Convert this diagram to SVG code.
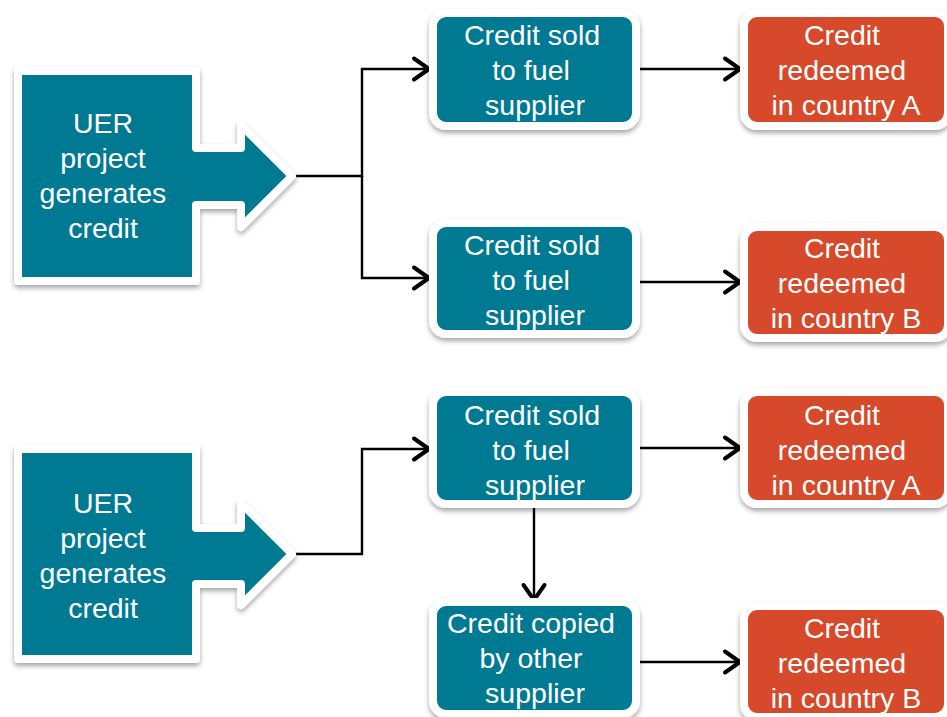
<svg xmlns="http://www.w3.org/2000/svg" width="947" height="717" viewBox="0 0 947 717">
<defs>
<filter id="sh" x="-10%" y="-10%" width="125%" height="130%">
<feDropShadow dx="0" dy="3" stdDeviation="2.5" flood-color="#000" flood-opacity="0.35"/>
</filter>
<marker id="chev" markerUnits="userSpaceOnUse" markerWidth="30" markerHeight="30" viewBox="-20 -15 30 30" refX="0" refY="0" orient="auto">
<path d="M-15,-10.5 L0,0 L-15,10.5" fill="none" stroke="#000" stroke-width="4" stroke-linecap="round" stroke-linejoin="round"/>
</marker>
<style>
.teal{fill:#017992;stroke:#fff;stroke-width:8;filter:url(#sh)}
.orange{fill:#D6492C;stroke:#fff;stroke-width:8;filter:url(#sh)}
.t{font-family:"Liberation Sans",Arial,sans-serif;font-size:28.5px;fill:#fff;text-anchor:middle}
.c{fill:none;stroke:#000;stroke-width:2.4}
.a{marker-end:url(#chev)}
</style>
</defs>
<rect width="947" height="717" fill="#fff"/>
<g id="connectors">
<path class="c a" d="M292,176 H362 V69 H429"/>
<path class="c a" d="M362,176 V278 H429"/>
<path class="c a" d="M636,69 H740"/>
<path class="c a" d="M636,282 H740"/>
<path class="c a" d="M292,554 H362 V449 H429"/>
<path class="c a" d="M636,448 H740"/>
<path class="c a" d="M534,504 V600"/>
<path class="c a" d="M636,662 H740"/>
</g>
<g id="uer1">
<path class="teal" stroke-linejoin="round" d="M18,71 H196 V148 H241 V125 L292,176 L241,227 V205 H196 V281 H18 Z"/>
<text class="t"><tspan x="103" y="133">UER</tspan><tspan x="103" y="168">project</tspan><tspan x="103" y="203">generates</tspan><tspan x="103" y="238">credit</tspan></text>
</g>
<g id="uer2">
<path class="teal" stroke-linejoin="round" d="M18,449 H196 V528 H241 V503 L292,554 L241,605 V584 H196 V659 H18 Z"/>
<text class="t"><tspan x="103" y="513">UER</tspan><tspan x="103" y="548">project</tspan><tspan x="103" y="583">generates</tspan><tspan x="103" y="618">credit</tspan></text>
</g>
<g id="sold1">
<rect class="teal" x="433" y="13" width="203" height="113" rx="13"/>
<text class="t"><tspan x="532" y="45">Credit sold</tspan><tspan x="531" y="80">to fuel</tspan><tspan x="535" y="115">supplier</tspan></text>
</g>
<g id="sold2">
<rect class="teal" x="433" y="223" width="203" height="111" rx="13"/>
<text class="t"><tspan x="532" y="255">Credit sold</tspan><tspan x="531" y="290">to fuel</tspan><tspan x="535" y="325">supplier</tspan></text>
</g>
<g id="sold3">
<rect class="teal" x="433" y="392" width="203" height="112" rx="13"/>
<text class="t"><tspan x="532" y="425">Credit sold</tspan><tspan x="531" y="460">to fuel</tspan><tspan x="535" y="495">supplier</tspan></text>
</g>
<g id="copied">
<rect class="teal" x="433" y="602" width="203" height="112" rx="13"/>
<text class="t"><tspan x="531" y="633">Credit copied</tspan><tspan x="531" y="668">by other</tspan><tspan x="535" y="703">supplier</tspan></text>
</g>
<g id="redA1">
<rect class="orange" x="744" y="13" width="204" height="113" rx="13"/>
<text class="t"><tspan x="842" y="45">Credit</tspan><tspan x="842" y="80">redeemed</tspan><tspan x="846" y="115">in country A</tspan></text>
</g>
<g id="redB1">
<rect class="orange" x="744" y="227" width="204" height="111" rx="13"/>
<text class="t"><tspan x="842" y="258">Credit</tspan><tspan x="842" y="293">redeemed</tspan><tspan x="846" y="328">in country B</tspan></text>
</g>
<g id="redA2">
<rect class="orange" x="744" y="392" width="204" height="112" rx="13"/>
<text class="t"><tspan x="842" y="425">Credit</tspan><tspan x="842" y="460">redeemed</tspan><tspan x="846" y="495">in country A</tspan></text>
</g>
<g id="redB2">
<rect class="orange" x="744" y="606" width="204" height="111" rx="13"/>
<text class="t"><tspan x="842" y="638">Credit</tspan><tspan x="842" y="673">redeemed</tspan><tspan x="846" y="708">in country B</tspan></text>
</g>
</svg>
